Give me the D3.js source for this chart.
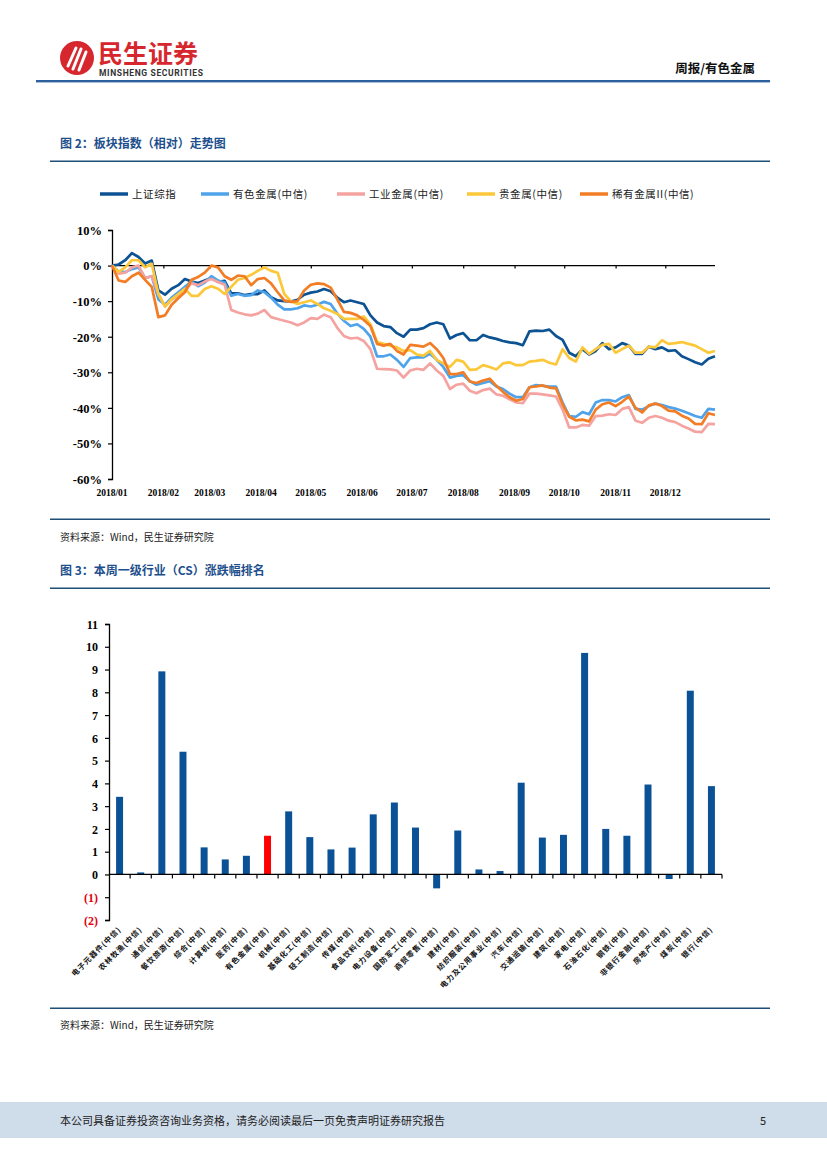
<!DOCTYPE html>
<html><head><meta charset="utf-8">
<script src="https://cdn.jsdelivr.net/npm/d3@7"></script>
<style>
body{margin:0;background:#fff;}
svg{display:block;}
</style></head>
<body>
<svg id="page" width="827" height="1169"></svg>
<script>
// ---------- Figure 2 data (relative % change, sampled every 4 calendar days from 2018-01-01) ----------
const seriesNames = ["上证综指","有色金属(中信)","工业金属(中信)","贵金属(中信)","稀有金属II(中信)"];
const seriesColors = ["#0d5394","#4ea3ea","#f4a3a0","#fcc83a","#f27d25"];
const startDate = "2018-01-01";
const stepDays = 4;
const shComposite = [0,0.3,1.5,3.5,2.4,0.6,1.4,-7,-8.2,-6.5,-5.5,-3.8,-4.5,-4.9,-4.2,-3.5,-4.6,-4.3,-7.8,-7.8,-8.3,-8,-8,-7,-8.9,-9.8,-10,-10.1,-9.6,-8.2,-7.6,-7.3,-6.6,-7.2,-9,-10.3,-9.8,-10.3,-10.8,-14,-16,-17,-17.3,-19,-20,-18,-18,-17.6,-16.5,-16,-16.5,-20.5,-19.5,-19,-21,-21,-19.5,-20.2,-20.6,-21.2,-21.6,-21.8,-22.4,-18.5,-18.3,-18.4,-18,-19.8,-20.9,-24.5,-25.5,-23.5,-25,-24,-21.8,-23.5,-23,-21.8,-22.5,-24.8,-24.8,-22.8,-23.5,-23,-24,-23.8,-25.5,-26.3,-27.2,-27.8,-26.2,-25.5];
const nonferrous = [0,-1.7,-1.8,-1,-0.5,-3.5,-3,-9.5,-11,-9,-7.5,-6,-4.5,-5.8,-4.8,-3,-4.2,-4.8,-8.5,-8,-8.5,-8.3,-7,-7.5,-9,-11,-12.3,-12.3,-12,-11.2,-11.5,-11,-10.2,-10.8,-13.5,-15.5,-17,-16.5,-17.8,-20,-25.5,-25.5,-25,-26.5,-28.5,-26,-25.8,-25.8,-24.8,-26.5,-28.5,-31.5,-31,-30.8,-32.5,-33.5,-33,-32.5,-34,-34.7,-36,-37,-37,-34.2,-33.6,-33.8,-34,-34,-38.5,-42.3,-42.5,-41.2,-41.8,-38.5,-37.8,-37.8,-38.2,-37,-36.4,-40.3,-40.5,-39.5,-38.8,-39.2,-39.8,-40.2,-40.8,-41.5,-42.3,-42.8,-40.3,-40.5];
const industrialMetals = [0,-2.3,-2,-0.5,0,-3.5,-3,-8,-11.5,-9.5,-8.5,-7,-5,-5.5,-4.5,-3.8,-4.6,-5.4,-12.5,-13.2,-13.7,-14,-13.5,-12.5,-14.5,-15,-15.5,-16,-16.8,-16,-14.8,-15,-13.8,-14.5,-17.5,-19.8,-20.5,-20.3,-21.2,-23.5,-29,-29.1,-29.2,-29.5,-31.5,-29.5,-29,-29.3,-27.5,-29.5,-31,-34.7,-33.5,-33.2,-35.2,-35.9,-35,-34.6,-36.2,-36.6,-37.6,-38.5,-38.7,-36,-36,-36.2,-36.5,-36.8,-40.5,-45.5,-45.5,-44.8,-45,-42.3,-42.2,-41.8,-42,-40.3,-39.8,-43.6,-44.2,-42.8,-42.3,-42.8,-43.6,-44,-45,-45.8,-46.7,-46.8,-44.5,-44.6];
const preciousMetals = [0,-1.8,-0.5,1.5,1.5,-0.5,0.5,-8,-11.5,-9.5,-8,-6.5,-8.5,-8.5,-6.6,-5.8,-6.5,-8,-6,-4,-3.5,-2.6,-1.5,-0.5,-1.5,-2,-8,-10,-10.8,-10.3,-9.8,-10.8,-12,-12.7,-13.6,-15,-15,-15,-14.3,-16.5,-21.5,-22,-22.5,-23,-24,-23.8,-25,-25.3,-24,-26.5,-27.5,-28.5,-26.5,-27,-29.3,-29.2,-28,-28.5,-29.2,-27.5,-27.2,-28,-28,-27,-26.8,-26.5,-27.3,-27.8,-23.5,-26,-27,-23,-24.8,-23.5,-22.3,-22,-24.5,-23.5,-22.5,-24.5,-24.5,-22.8,-23,-21,-22,-21.8,-21.5,-22,-22.5,-23.5,-24.5,-24];
const rareMetals = [0,-4.2,-4.6,-3,-2,-4,-6,-14.5,-14,-11,-9.2,-7.5,-4,-3.2,-2,0,-0.5,-3,-4,-2.8,-3,-5.5,-3.8,-3.5,-5,-7.5,-9.8,-10.2,-10,-7,-5.4,-5,-5.2,-6.2,-9.5,-13,-13.3,-14,-15.3,-17,-22,-22.5,-22,-24,-25,-22.3,-22.5,-22.8,-21.8,-23.5,-26,-30.5,-30.5,-30,-32.6,-33,-32.3,-31.8,-33.8,-35.5,-37,-38,-37.5,-34.2,-34,-33.7,-34.3,-34.5,-39,-42.5,-43.5,-43.3,-43.8,-40.5,-39,-38.5,-39.5,-38.3,-36.8,-40,-41.3,-39.3,-38.8,-39.5,-40.8,-41,-42.2,-43,-44.5,-44.6,-41.5,-42];
const lineTicks = [10,0,-10,-20,-30,-40,-50,-60];
const monthLabels = ["2018/01","2018/02","2018/03","2018/04","2018/05","2018/06","2018/07","2018/08","2018/09","2018/10","2018/11","2018/12"];

// ---------- Figure 3 data ----------
const industries = ["电子元器件(中信)","农林牧渔(中信)","通信(中信)","餐饮旅游(中信)","综合(中信)","计算机(中信)","医药(中信)","有色金属(中信)","机械(中信)","基础化工(中信)","轻工制造(中信)","传媒(中信)","食品饮料(中信)","电力设备(中信)","国防军工(中信)","商贸零售(中信)","建材(中信)","纺织服装(中信)","电力及公用事业(中信)","汽车(中信)","交通运输(中信)","建筑(中信)","家电(中信)","石油石化(中信)","钢铁(中信)","非银行金融(中信)","房地产(中信)","煤炭(中信)","银行(中信)"];
const weeklyChange = [3.41,0.09,8.92,5.39,1.19,0.66,0.82,1.70,2.77,1.64,1.10,1.18,2.64,3.16,2.06,-0.61,1.93,0.22,0.15,4.03,1.62,1.74,9.73,2.00,1.70,3.95,-0.20,8.07,3.88];
const highlight = "有色金属(中信)";
const barTicks = [-2,-1,0,1,2,3,4,5,6,7,8,9,10,11];

// ---------- page ----------
const svg = d3.select("#page");
const CJK = "'Noto Sans CJK SC','Noto Sans',sans-serif";
const SERIF = "'Liberation Serif','DejaVu Serif',serif";
const TITLE_BLUE = "#1d4f8c";

// header logo
const logo = svg.append("g");
logo.append("circle").attr("cx",77).attr("cy",58).attr("r",17).attr("fill","#d7272e");
[[-9,8,-1,-10],[-4,11,4,-9],[2,12,9,-6]].forEach(s=>{
  logo.append("path").attr("d",`M${77+s[0]},${58+s[1]} L${77+s[2]},${58+s[3]}`)
    .attr("stroke","#fff").attr("stroke-width",3).attr("stroke-linecap","round");
});
svg.append("text").attr("x",98).attr("y",63).text("民生证券")
  .style("font-family",CJK).style("font-weight","700").style("font-size","25px").attr("fill","#d7272e");
svg.append("text").attr("x",99).attr("y",76).text("MINSHENG SECURITIES")
  .style("font-family","'Roboto','Liberation Sans',sans-serif").style("font-weight","700")
  .style("font-size","8.5px").attr("fill","#333").attr("textLength",104);
svg.append("text").attr("x",755).attr("y",73).attr("text-anchor","end").text("周报/有色金属")
  .style("font-family",CJK).style("font-weight","700").style("font-size","12.5px").attr("fill","#111");
svg.append("rect").attr("x",36).attr("y",80).attr("width",734).attr("height",2.2).attr("fill","#2e5f9f");
svg.append("rect").attr("x",36).attr("y",82.2).attr("width",734).attr("height",0.8).attr("fill","#9fb8d8");

function figTitle(y, txt){
  svg.append("text").attr("x",60).attr("y",y).text(txt)
    .style("font-family",CJK).style("font-weight","700").style("font-size","12px").attr("fill",TITLE_BLUE);
}
function hLine(y){
  svg.append("rect").attr("x",50).attr("y",y).attr("width",720).attr("height",1.5).attr("fill","#1f4e79");
}
function source(y){
  svg.append("text").attr("x",60).attr("y",y).text("资料来源：Wind，民生证券研究院")
    .style("font-family",CJK).style("font-size","10px").attr("fill","#222");
}

figTitle(148,"图 2：板块指数（相对）走势图");
hLine(160.5);
hLine(518.5);
source(541);
figTitle(575,"图 3：本周一级行业（CS）涨跌幅排名");
hLine(587.5);
hLine(1007.5);
source(1029);

// ---------- line chart ----------
const allSeries = [shComposite, nonferrous, industrialMetals, preciousMetals, rareMetals];
const parse = d3.timeParse("%Y-%m-%d");
const t0 = parse(startDate);
const dates = shComposite.map((_,i)=>d3.timeDay.offset(t0, i*stepDays));
const x = d3.scaleTime().domain([parse("2018-01-01"), parse("2018-12-31")]).range([112,715]);
const y = d3.scaleLinear().domain([-60,10]).range([479,230]);

const lc = svg.append("g");
// y axis
const yAxis = lc.append("g").attr("transform","translate(112,0)")
  .call(d3.axisLeft(y).tickValues(lineTicks).tickSize(4).tickFormat(d=>d+"%"));
yAxis.select(".domain").attr("stroke","#000").attr("stroke-width",1.3);
yAxis.selectAll(".tick line").attr("stroke","#000").attr("stroke-width",1.2);
yAxis.selectAll("text").attr("x",-10).attr("dy","0.35em")
  .style("font-family",SERIF).style("font-weight","700").style("font-size","12.5px").attr("fill","#000");

// zero axis with month ticks
const monthDates = monthLabels.map(m=>parse(m.replace("/","-")+"-01"));
const xAxis = lc.append("g").attr("transform",`translate(0,${y(0)})`)
  .call(d3.axisBottom(x).tickValues(monthDates).tickSize(3).tickFormat(""));
xAxis.select(".domain").attr("stroke","#000").attr("stroke-width",1.3).attr("d",`M112,0H715`);
xAxis.selectAll(".tick line").attr("stroke","#000").attr("stroke-width",1.2);
// month labels at the bottom
lc.selectAll("text.month").data(monthLabels).enter().append("text")
  .attr("class","month").attr("x",(d,i)=>x(monthDates[i])).attr("y",495.5)
  .attr("text-anchor","middle").text(d=>d)
  .style("font-family",SERIF).style("font-weight","700").style("font-size","9.5px").attr("fill","#000");

const line = d3.line().x((d,i)=>x(dates[i])).y(d=>y(d)).curve(d3.curveLinear);
allSeries.forEach((s,k)=>{
  lc.append("path").datum(s).attr("d",line).attr("fill","none")
    .attr("stroke",seriesColors[k]).attr("stroke-width",2.7).attr("stroke-linejoin","round");
});

// legend
const legendX = [100,201,337,467,580];
seriesNames.forEach((n,k)=>{
  svg.append("line").attr("x1",legendX[k]).attr("x2",legendX[k]+28).attr("y1",194).attr("y2",194)
    .attr("stroke",seriesColors[k]).attr("stroke-width",3.5);
  svg.append("text").attr("x",legendX[k]+32).attr("y",198).text(n)
    .style("font-family",CJK).style("font-size","10.5px").style("letter-spacing","0.6px").attr("fill","#222");
});

// ---------- bar chart ----------
const bx = d3.scaleBand().domain(industries).range([109,722]).paddingInner(0.67).paddingOuter(0.335);
const bandStep = d3.scaleBand().domain(industries).range([109,722]);
const by = d3.scaleLinear().domain([-2,11]).range([920,624]);
const bc = svg.append("g");

bc.selectAll("rect.bar").data(industries).enter().append("rect")
  .attr("class","bar")
  .attr("x",d=>bx(d)).attr("width",bx.bandwidth())
  .attr("y",(d,i)=>by(Math.max(0,weeklyChange[i])))
  .attr("height",(d,i)=>Math.abs(by(weeklyChange[i])-by(0)))
  .attr("fill",d=>d===highlight?"#ff0000":"#0b5196");

const byAxis = bc.append("g").attr("transform","translate(109,0)")
  .call(d3.axisLeft(by).tickValues(barTicks).tickSize(4).tickFormat(d=>d<0?`(${-d})`:d));
byAxis.select(".domain").attr("stroke","#000").attr("stroke-width",1.3);
byAxis.selectAll(".tick line").attr("stroke","#000").attr("stroke-width",1.2);
byAxis.selectAll("text").attr("x",-11).attr("dy","0.35em")
  .style("font-family",SERIF).style("font-weight","700").style("font-size","12px")
  .attr("fill",d=>d<0?"#e0000f":"#000");

// x axis at zero with boundary ticks
const boundaries = industries.map(d=>bandStep(d)).concat([722]);
bc.append("line").attr("x1",109).attr("x2",722).attr("y1",by(0)).attr("y2",by(0))
  .attr("stroke","#000").attr("stroke-width",1.3);
bc.selectAll("line.bt").data(boundaries.slice(1)).enter().append("line")
  .attr("class","bt").attr("x1",d=>d).attr("x2",d=>d).attr("y1",by(0)).attr("y2",by(0)+4)
  .attr("stroke","#000").attr("stroke-width",1.2);

// rotated category labels
bc.selectAll("text.cat").data(industries).enter().append("text")
  .attr("class","cat")
  .attr("transform",d=>`translate(${bx(d)+bx.bandwidth()/2+2},${930}) rotate(-45)`)
  .attr("text-anchor","end").text(d=>d)
  .style("font-family",CJK).style("font-weight","700").style("font-size","7.5px")
  .style("letter-spacing","0.9px").attr("fill","#111");

// ---------- footer ----------
svg.append("rect").attr("x",0).attr("y",1102).attr("width",827).attr("height",36).attr("fill","#cfdcea");
svg.append("text").attr("x",60).attr("y",1125).text("本公司具备证券投资咨询业务资格，请务必阅读最后一页免责声明证券研究报告")
  .style("font-family",CJK).style("font-size","11px").attr("fill","#222");
svg.append("text").attr("x",766).attr("y",1125).attr("text-anchor","end").text("5")
  .style("font-family",CJK).style("font-size","11px").attr("fill","#222");
</script>
</body></html>
